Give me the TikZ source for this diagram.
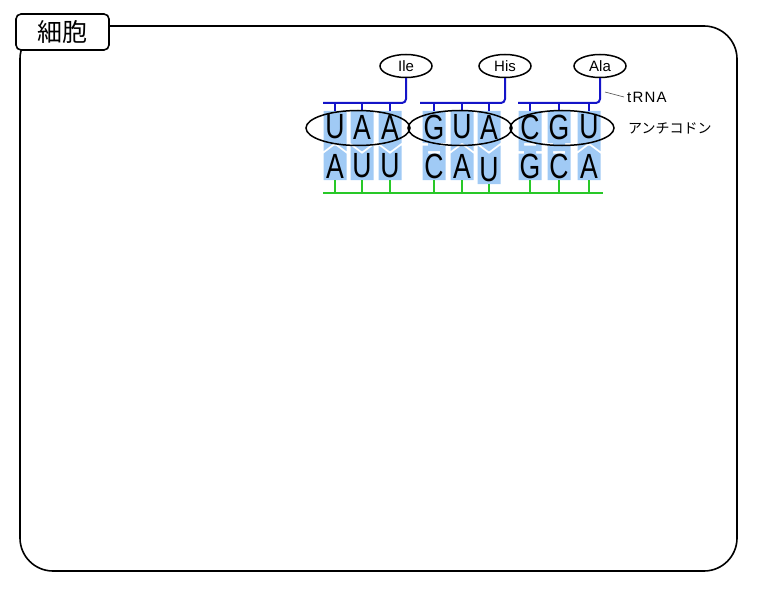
\documentclass[tikz,border=0pt]{standalone}
\usepackage{fontspec}
\setmainfont{Liberation Sans}
\newfontfamily\jpfont{Noto Sans CJK JP}
\usepackage{tikz}
\usetikzlibrary{shapes.geometric}
\definecolor{tileblue}{RGB}{160,202,245}
\definecolor{trnablue}{RGB}{20,20,200}
\definecolor{mrnagreen}{RGB}{40,200,40}

\begin{document}
\begin{tikzpicture}[x=1pt,y=-1pt,
  blueline/.style={draw=trnablue,line width=2pt},
  greenline/.style={draw=mrnagreen,line width=2pt},
  amino/.style={draw,ellipse,line width=1.5pt,minimum width=52pt,minimum height=23pt,inner sep=0pt,font=\fontsize{15}{15}\selectfont},
  codon/.style={draw,ellipse,line width=1.5pt,minimum width=104pt,minimum height=35pt,inner sep=0pt},
  letter/.style={inner sep=0pt,font=\fontsize{35}{35}\selectfont,xscale=0.76,transform shape}]
\useasboundingbox (0,0) rectangle (762,599);
% cell frame
\draw[line width=1.6pt,rounded corners=33pt] (20,26) rectangle (737,571);
\node[draw,fill=white,line width=1.6pt,rounded corners=5pt,minimum width=93pt,minimum height=36pt]
  (cell) at (62.5,32) {\jpfont\fontsize{25}{25}\selectfont 細胞};
% amino acids
\node[amino] (ile) at (406,66) {Ile};
\node[amino] (his) at (505,66) {His};
\node[amino] (ala) at (600,66) {Ala};
% tRNA backbones
\coordinate (l1) at (323,103);
\coordinate (l2) at (420,103);
\coordinate (l3) at (518,103);
\draw[blueline,rounded corners=4pt] (l1) -- (ile.south |- l1) -- (ile.south);
\draw[blueline,rounded corners=4pt] (l2) -- (his.south |- l2) -- (his.south);
\draw[blueline,rounded corners=4pt] (l3) -- (ala.south |- l3) -- (ala.south);
% mRNA
\coordinate (m0) at (323,193);
\coordinate (m1) at (603,193);
\draw[greenline] (m0) -- (m1);
% base pairs
\foreach \cx/\tb/\bb/\dep/\outer/\inner/\low [count=\i] in {
  335/U/A/-4/11.3/0.6/0, 362/A/U/4/11.3/0.6/0, 390/A/U/4/11.3/0.6/0,
  434/G/C/4/6/6/0, 462/U/A/-4/11.3/0.6/0, 489/A/U/4/11.3/0.6/4,
  530/C/G/-4/6/6/0, 559/G/C/4/6/6/0, 589/U/A/-4/11.3/0.6/0}{
  \fill[tileblue] (\cx-11.5,111) -- (\cx+11.5,111) -- (\cx+11.5,147-\dep) -- (\cx+\outer,147-\dep)
    -- (\cx+\inner,147+\dep) -- (\cx-\inner,147+\dep) -- (\cx-\outer,147-\dep) -- (\cx-11.5,147-\dep) -- cycle;
  \fill[tileblue] (\cx-11.5,149.5-\dep) -- (\cx-\outer,149.5-\dep) -- (\cx-\inner,149.5+\dep) -- (\cx+\inner,149.5+\dep)
    -- (\cx+\outer,149.5-\dep) -- (\cx+11.5,149.5-\dep) -- (\cx+11.5,180+\low) -- (\cx-11.5,180+\low) -- cycle;
  \coordinate (tt\i) at (\cx,111);
  \coordinate (bb\i) at (\cx,180+\low);
  \draw[blueline] (tt\i |- l1) -- (tt\i);
  \draw[greenline] (bb\i) -- (bb\i |- m0);
  \node[letter] (t\i) at (\cx,127) {\tb};
  \node[letter] (b\i) at (\cx,166+\low) {\bb};
}
% anticodons
\node[codon] (ac1) at (358,128) {};
\node[codon] (ac2) at (460,128) {};
\node[codon] (ac3) at (562,128) {};
% labels
\node[font=\fontsize{15}{15}\selectfont\addfontfeature{LetterSpace=8},anchor=west,inner sep=0pt] (trna) at (627,97) {tRNA};
\coordinate (tp) at (605,92);
\draw[black!70,line width=0.6pt] (tp) -- ([xshift=-3pt]trna.west);
\node[font=\jpfont\fontsize{14}{14}\selectfont,anchor=west,inner sep=0pt] (anti) at (628,128) {アンチコドン};
\end{tikzpicture}
\end{document}
